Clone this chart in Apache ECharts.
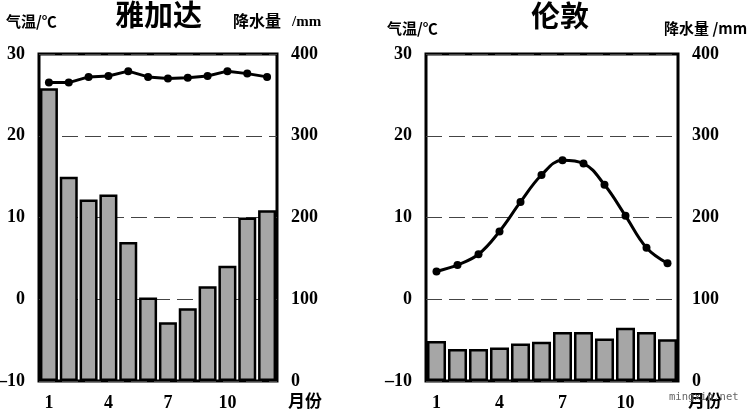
<!DOCTYPE html>
<html>
<head>
    <meta charset="utf-8">
    <title>ECharts</title>
    <script src="https://cdn.jsdelivr.net/npm/echarts@6/dist/echarts.min.js"></script>
    <style>html,body{margin:0;padding:0;background:#fff}</style>
</head>
<body>
<div id="main" style="width: 750px;height:415px;"></div>
<script type="text/javascript">
    var months = ['1','2','3','4','5','6','7','8','9','10','11','12'];
    var jakartaTemp = [26.5,26.5,27.2,27.3,27.9,27.2,27.0,27.1,27.3,27.9,27.6,27.2];
    var jakartaRain = [358,250,222,228,170,102,72,89,116,141,200,209];
    var londonTemp = [3.4,4.2,5.5,8.3,11.9,15.2,17.0,16.6,14.0,10.2,6.3,4.4];
    var londonRain = [49,39,39,41,46,48,60,60,52,65,60,51];

    var numFont = '"Liberation Serif", serif';
    var cjkFont = '"Noto Sans CJK SC", sans-serif';

    function xAxis(grid) {
        return {
            type: 'category', gridIndex: grid, data: months,
            axisLine: {show: false}, axisTick: {show: false},
            axisLabel: {interval: 2, margin: 13, color: '#000', fontFamily: numFont, fontWeight: 'bold', fontSize: 18}
        };
    }

    function tempAxis(grid) {
        return {
            type: 'value', gridIndex: grid, min: -10, max: 30, interval: 10,
            axisLine: {show: false}, axisTick: {show: false},
            axisLabel: {
                margin: 14, padding: [2, 0, 0, 0], color: '#000', fontFamily: numFont, fontWeight: 'bold', fontSize: 18,
                formatter: function (v) { return String(v).replace('-', '–'); }
            },
            splitLine: {show: true, lineStyle: {color: '#444', width: 1, type: [16, 7]}}
        };
    }

    function rainAxis(grid) {
        return {
            type: 'value', gridIndex: grid, position: 'right', min: 0, max: 400, interval: 100,
            axisLine: {show: false}, axisTick: {show: false}, splitLine: {show: false},
            axisLabel: {margin: 14, padding: [2, 0, 0, 0], color: '#000', fontFamily: numFont, fontWeight: 'bold', fontSize: 18}
        };
    }

    function barSeries(idx, data, width) {
        return {
            type: 'bar', xAxisIndex: idx, yAxisIndex: idx * 2 + 1, data: data, barWidth: width, z: 2,
            itemStyle: {color: '#a6a6a6', borderColor: '#000', borderWidth: 2.5}
        };
    }

    function lineSeries(idx, data, smooth) {
        return {
            type: 'line', xAxisIndex: idx, yAxisIndex: idx * 2, data: data, smooth: smooth, z: 3,
            symbol: 'circle', symbolSize: 8,
            lineStyle: {color: '#000', width: 3}, itemStyle: {color: '#000'}
        };
    }

    function label(x, y, text, size, font) {
        return {
            type: 'text', x: x, y: y, z: 10,
            style: {text: text, fill: '#000', font: 'bold ' + size + 'px ' + (font || cjkFont)}
        };
    }

    var myChart = echarts.init(document.getElementById('main'));
    var option = {
        animation: false,
        backgroundColor: '#fff',
        grid: [
            {left: 39, top: 54, width: 238, height: 327, outerBoundsMode: 'none', show: true, borderColor: '#000', borderWidth: 3, backgroundColor: 'transparent'},
            {left: 426, top: 54, width: 252, height: 327, outerBoundsMode: 'none', show: true, borderColor: '#000', borderWidth: 3, backgroundColor: 'transparent'}
        ],
        xAxis: [xAxis(0), xAxis(1)],
        yAxis: [tempAxis(0), rainAxis(0), tempAxis(1), rainAxis(1)],
        series: [
            barSeries(0, jakartaRain, 18),
            lineSeries(0, jakartaTemp, false),
            barSeries(1, londonRain, 19),
            lineSeries(1, londonTemp, 0.4)
        ],
        graphic: [
            label(115, 0, '雅加达', 29),
            label(6, 14, '气温/℃', 15),
            label(233, 13, '降水量', 16),
            label(292, 15, '/mm', 15, numFont),
            label(288, 392, '月份', 17),
            label(531, 1, '伦敦', 29),
            label(387, 21, '气温/℃', 15),
            label(664, 21, '降水量 /mm', 15),
            label(688, 392, '月份', 17),
            {
                type: 'text', x: 669, y: 392, z: 11,
                style: {text: 'mingxin.net', fill: '#666', font: '10.5px "DejaVu Sans Mono", monospace'}
            }
        ]
    };
    myChart.setOption(option);
</script>
</body>
</html>
